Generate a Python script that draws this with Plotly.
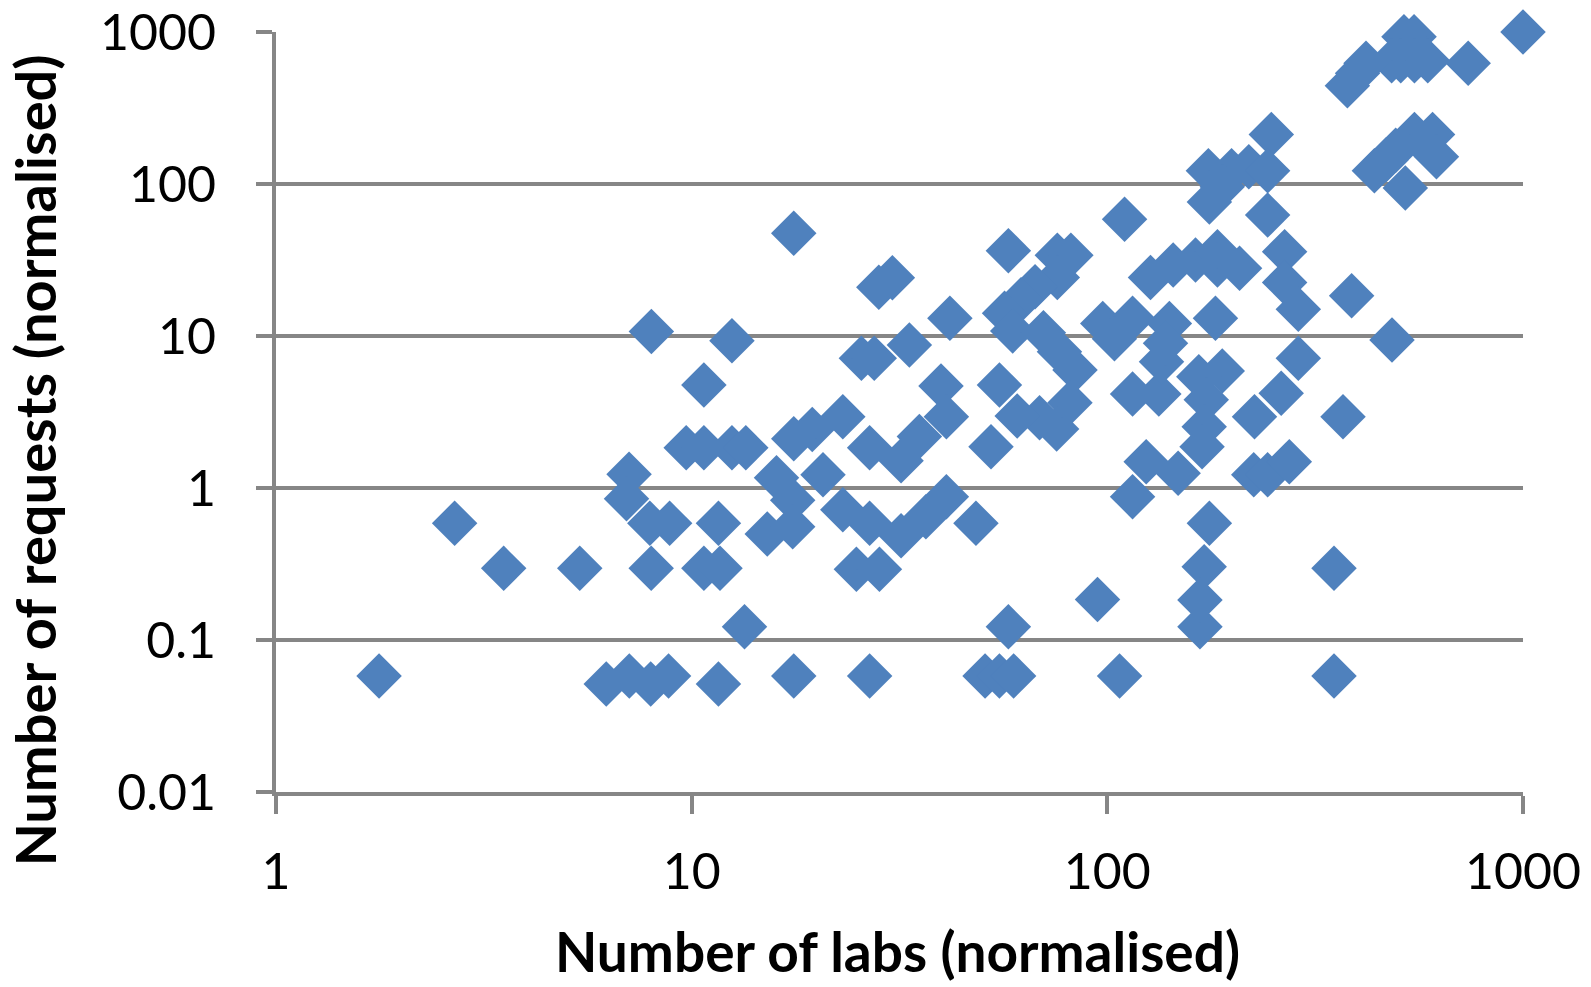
import plotly.graph_objects as go

# Number of labs (normalised)
labs = [
    1000, 547, 517, 483, 508, 548, 590, 738, 419, 400, 378,
    548, 606, 619, 494, 468, 439, 521,
    387, 484, 369, 351, 351,
    248, 175, 199, 219, 243, 176, 189, 243, 110,
    127, 144, 163, 184, 184, 208, 267, 267, 288, 288,
    57.8, 30.4, 28.2, 75.8, 81.7, 75.8, 67, 62, 56.6, 59.2, 41.8, 33.4, 25.6, 27.5, 17.6,
    97.5, 115, 141, 182, 104, 115, 133, 135, 138, 189, 166, 173, 171, 169, 262, 226,
    124, 148, 115, 176, 171, 225, 243, 274, 167, 167, 94.7, 107,
    70.2, 76.7, 83.6, 81.3, 75.5, 68.7, 60.7, 55, 52.5, 39.8, 41, 35.3, 31.9, 26.8, 23.1,
    41, 48.3, 31.9, 26.8, 36.6, 23.1, 24.9, 28.3, 57.8, 26.8, 50.8, 55, 59.5,
    8.0, 12.5, 10.7, 9.7, 10.7, 12.5, 13.5, 7.07, 6.97, 7.93, 8.85, 11.6,
    19.5, 17.6, 16, 20.7, 17.5, 15.2, 17.5,
    1.77, 2.69, 3.53, 5.38, 7.99, 10.7, 11.7, 13.4, 6.23, 7.08, 7.97, 8.8, 11.6, 17.6,
]

# Number of requests (normalised)
requests = [
    1000, 931, 931, 647, 647, 647, 647, 622, 622, 535, 443,
    212, 212, 151, 167, 144, 122, 94,
    18.4, 9.4, 2.94, 0.296, 0.058,
    212, 122, 122, 130, 122, 76, 96, 62.5, 58.6,
    24.3, 29.3, 31.6, 35.9, 29.3, 27.9, 35.9, 22.5, 15, 7.13,
    36.4, 24.2, 20.9, 34, 34, 24.3, 21.1, 17.3, 14.1, 10.8, 13.1, 8.73, 7.13, 7.13, 47.4,
    12.1, 13.1, 12.1, 13.1, 9.6, 4.15, 4.15, 6.78, 8.95, 5.89, 5.4, 3.8, 2.53, 1.87, 4.2, 2.94,
    1.49, 1.25, 0.877, 0.586, 0.303, 1.22, 1.22, 1.49, 0.122, 0.183, 0.185, 0.058,
    10.5, 7.88, 5.97, 3.64, 2.44, 2.9, 2.98, 4.76, 1.87, 4.69, 2.94, 2.18, 1.51, 1.84, 2.94,
    0.877, 0.586, 0.485, 0.586, 0.647, 0.72, 0.292, 0.292, 0.122, 0.058, 0.058, 0.058, 0.058,
    10.7, 9.3, 4.76, 1.84, 1.84, 1.84, 1.84, 1.23, 0.85, 0.586, 0.586, 0.586,
    2.43, 2.11, 1.17, 1.22, 0.83, 0.498, 0.557,
    0.058, 0.586, 0.296, 0.296, 0.296, 0.296, 0.296, 0.122, 0.0514, 0.058, 0.0514, 0.058, 0.0514, 0.058,
]

x_ticks = [1, 10, 100, 1000]
x_tick_labels = ["1", "10", "100", "1000"]
y_ticks = [0.01, 0.1, 1, 10, 100, 1000]
y_tick_labels = ["0.01", "0.1", "1", "10", "100", "1000"]

GRID = "#868686"
BLUE = "#4F81BD"
FONT = "Lato"

fig = go.Figure()
fig.add_trace(go.Scatter(
    x=labs, y=requests, mode="markers",
    marker=dict(symbol="diamond", size=35, color=BLUE, line=dict(width=0)),
    cliponaxis=False, showlegend=False,
))

fig.update_layout(
    width=1591, height=987,
    margin=dict(l=276, r=68, t=32, b=195, autoexpand=False),
    paper_bgcolor="white", plot_bgcolor="white",
    font=dict(family=FONT, color="black"),
    xaxis=dict(
        type="log", range=[0, 3], automargin=False,
        tickvals=x_ticks, ticktext=x_tick_labels,
        showgrid=False, zeroline=False,
        showline=True, linecolor=GRID, linewidth=4,
        ticks="outside", ticklen=18, tickwidth=4, tickcolor=GRID,
        tickfont=dict(family=FONT, size=50, color="black"),
        ticklabelstandoff=15,
    ),
    yaxis=dict(
        type="log", range=[-2, 3], automargin=False,
        tickvals=y_ticks, ticktext=y_tick_labels,
        showgrid=True, gridcolor=GRID, gridwidth=4, zeroline=False,
        showline=True, linecolor=GRID, linewidth=4,
        ticks="outside", ticklen=16, tickwidth=4, tickcolor=GRID,
        tickfont=dict(family=FONT, size=50, color="black"),
        ticklabelstandoff=30,
    ),
    annotations=[
        dict(text="<b>Number of labs (normalised)</b>", xref="paper", yref="paper",
             x=0.498, y=-0.2088, xanchor="center", yanchor="middle", showarrow=False,
             font=dict(family=FONT, size=55, color="black")),
        dict(text="<b>Number of requests (normalised)</b>", xref="paper", yref="paper",
             x=-0.1935, y=0.436, xanchor="center", yanchor="middle", showarrow=False,
             textangle=-90, font=dict(family=FONT, size=56, color="black")),
    ],
)

fig.write_html("out.html")
